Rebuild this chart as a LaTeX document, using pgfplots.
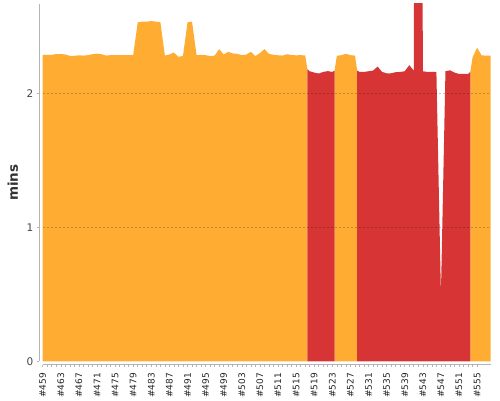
\documentclass[border=0pt]{standalone}
\usepackage{pgfplots}
\pgfplotsset{compat=1.18}
\usepackage{fontspec}
\setmainfont{DejaVu Sans}
\definecolor{unstable}{HTML}{FFAC33}
\definecolor{failed}{HTML}{D73535}
\definecolor{axgray}{HTML}{B4B4B4}
\definecolor{lblgray}{HTML}{444444}
\begin{document}
\begin{tikzpicture}
\begin{axis}[
  name=ax,
  at={(0,0)}, anchor=south west,
  scale only axis,
  width=448pt, height=357.3pt,
  xmin=459, xmax=558, ymin=0, ymax=2.667,
  axis x line=bottom, axis y line=left,
  axis line style={axgray, line width=0.8pt, -},
  axis x line shift=3.4pt, axis y line shift=3.4pt,
  /pgf/number format/assume math mode=true,
  xtick={459,463,...,555},
  xticklabels={\#459,\#463,\#467,\#471,\#475,\#479,\#483,\#487,\#491,\#495,\#499,\#503,\#507,\#511,\#515,\#519,\#523,\#527,\#531,\#535,\#539,\#543,\#547,\#551,\#555},
  x tick label style={rotate=90, anchor=east, font=\fontsize{9}{10}\selectfont, text=black!85, inner sep=1.5pt},
  xticklabel shift=4pt,
  minor x tick num=3,
  ytick={0,1,2},
  y tick label style={font=\fontsize{10.5}{12}\selectfont, text=lblgray},
  tick style={axgray, line width=0.6pt},
  major tick length=2.5pt, minor tick length=2.5pt,
  tick align=outside,
  extra y ticks={1,2}, extra y tick labels={},
  extra y tick style={grid=major, major tick length=0pt},
  grid style={dash pattern=on 2pt off 2pt, black, opacity=0.22, line width=0.5pt},
  ylabel={mins},
  ylabel style={font=\bfseries\fontsize{13.5}{15}\selectfont, text=black!80, at={(axis description cs:-0.0665,0.5)}, anchor=center, rotate=0},
  axis on top,
]
% unstable (yellow) builds
\addplot[fill=unstable, draw=none] coordinates {
(459,2.287)(460,2.287)(461,2.288)(462,2.293)(463,2.294)(464,2.290)(465,2.280)(466,2.280)(467,2.284)(468,2.282)
(469,2.285)(470,2.292)(471,2.296)(472,2.292)(473,2.282)(474,2.285)(475,2.285)(476,2.285)(477,2.285)(478,2.285)
(479,2.286)(480,2.530)(481,2.535)(482,2.535)(483,2.540)(484,2.535)(485,2.532)(486,2.282)(487,2.290)(488,2.305)
(489,2.272)(490,2.280)(491,2.530)(492,2.535)(493,2.285)(494,2.288)(495,2.285)(496,2.278)(497,2.282)(498,2.330)
(499,2.290)(500,2.310)(501,2.298)(502,2.295)(503,2.285)(504,2.290)(505,2.310)(506,2.278)(507,2.300)(508,2.330)
(509,2.295)(510,2.288)(511,2.284)(512,2.282)(513,2.292)(514,2.286)(515,2.284)(516,2.285)(517,2.283)(517.5,2.18)
} \closedcycle;
\addplot[fill=unstable, draw=none] coordinates {
(523.5,2.17)(524,2.280)(525,2.285)(526,2.295)(527,2.285)(528,2.282)(528.5,2.17)
} \closedcycle;
\addplot[fill=unstable, draw=none] coordinates {
(553.5,2.16)(554,2.270)(555,2.340)(556,2.283)(557,2.282)(558,2.282)
} \closedcycle;
% failed (red) builds
\addplot[fill=failed, draw=none] coordinates {
(517.5,2.18)(518,2.165)(519,2.155)(520,2.148)(521,2.160)(522,2.166)(523,2.160)(523.5,2.17)
} \closedcycle;
\addplot[fill=failed, draw=none] coordinates {
(528.5,2.17)(529,2.160)(530,2.160)(531,2.165)(532,2.170)(533,2.200)(534,2.160)(535,2.150)(536,2.150)(537,2.158)
(538,2.160)(539,2.165)(540,2.210)(541,2.170)(542,20.0)(543,2.165)(544,2.160)(545,2.160)(546,2.160)(547,0.50)
(548,2.165)(549,2.172)(550,2.155)(551,2.145)(552,2.145)(553,2.145)(553.5,2.16)
} \closedcycle;
\end{axis}
\pgfresetboundingbox
\useasboundingbox ([xshift=-42.7pt,yshift=-38.7pt]ax.south west) rectangle ([xshift=9.3pt,yshift=4pt]ax.north east);
\end{tikzpicture}
\end{document}
